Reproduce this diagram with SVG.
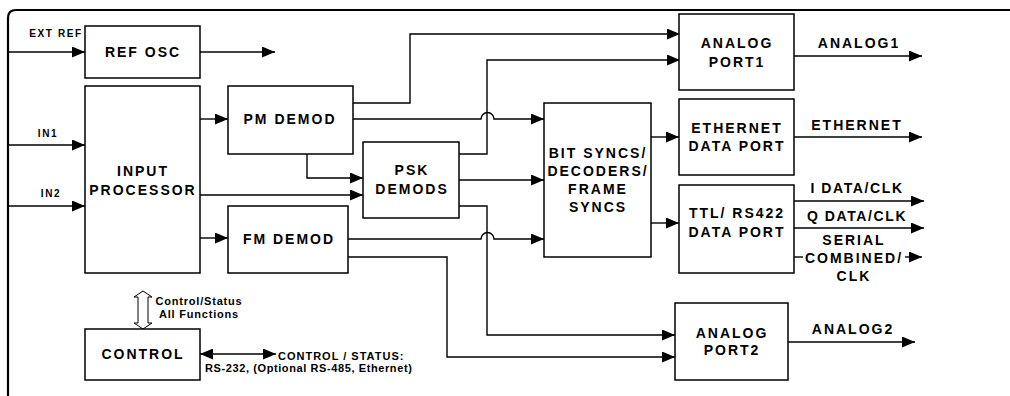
<svg xmlns="http://www.w3.org/2000/svg" width="1010" height="396" viewBox="0 0 1010 396">
<style>
.box{fill:#fff;stroke:#000;stroke-width:1.5}
.ln{fill:none;stroke:#000;stroke-width:1.4}
.ar{marker-end:url(#ah)}
.t{font-family:"Liberation Sans",Arial,sans-serif;font-weight:bold;font-size:14px;letter-spacing:2px;text-anchor:middle;fill:#000}
.s{font-family:"Liberation Sans",Arial,sans-serif;font-weight:bold;font-size:11px;letter-spacing:0.8px;fill:#000}
.m{font-family:"Liberation Sans",Arial,sans-serif;font-weight:bold;font-size:10px;letter-spacing:1.6px;text-anchor:middle;fill:#000}
</style>
<defs>
<marker id="ah" markerUnits="userSpaceOnUse" markerWidth="13" markerHeight="11" refX="13" refY="5.5" orient="auto-start-reverse" viewBox="0 0 13 11">
<path d="M0,0 L13,5.5 L0,11 z" fill="#000"/>
</marker>
</defs>
<rect width="1010" height="396" fill="#fff"/>
<path d="M8,396 V18 Q8,10 16,10 H1010" fill="none" stroke="#000" stroke-width="2.2"/>

<g id="connectors">
<path class="ln ar" d="M8,52 H85"/>
<path class="ln ar" d="M200,52 H275"/>
<path class="ln ar" d="M8,145 H85"/>
<path class="ln ar" d="M8,206 H85"/>
<path class="ln ar" d="M200,119 H228"/>
<path class="ln ar" d="M200,238 H228"/>
<path class="ln ar" d="M200,195 H363"/>
<path class="ln ar" d="M307,154 V178 H363"/>
<path class="ln ar" d="M353,103 H410 V34 H680"/>
<path class="ln ar" d="M353,119 H481 A6.5,6.5 0 0 1 494,119 H544"/>
<path class="ln ar" d="M459,154 H487 V60 H680"/>
<path class="ln ar" d="M459,180 H544"/>
<path class="ln ar" d="M459,206 H487 V335 H675"/>
<path class="ln ar" d="M348,239 H481 A6.5,6.5 0 0 1 494,239 H544"/>
<path class="ln ar" d="M348,257 H447 V357 H675"/>
<path class="ln ar" d="M651,137 H679"/>
<path class="ln ar" d="M651,223 H679"/>
<path class="ln ar" d="M794,56 H922"/>
<path class="ln ar" d="M794,137 H922"/>
<path class="ln ar" d="M794,201 H924"/>
<path class="ln ar" d="M794,228 H924"/>
<path class="ln" d="M794,257 H803"/>
<path class="ln ar" d="M905,257 H922"/>
<path class="ln ar" d="M788,342 H915"/>
<path class="ln" d="M200,354 H276" marker-start="url(#ah)" marker-end="url(#ah)"/>
<polygon points="143,291 152,297 148,297 148,323 152,323 143,329 134,323 138,323 138,297 134,297" fill="#fff" stroke="#000" stroke-width="1"/>
</g>

<g id="labels">
<text class="m" x="56" y="37">EXT REF</text>
<text class="m" x="48" y="137">IN1</text>
<text class="m" x="51" y="197">IN2</text>
<text class="t" x="859" y="48">ANALOG1</text>
<text class="t" x="857" y="130">ETHERNET</text>
<text class="t" x="857" y="193" style="letter-spacing:1.6px">I DATA/CLK</text>
<text class="t" x="857" y="221" style="letter-spacing:1.6px">Q DATA/CLK</text>
<text class="t" x="854" y="245">SERIAL</text>
<text class="t" x="854" y="263">COMBINED/</text>
<text class="t" x="854" y="281">CLK</text>
<text class="t" x="853" y="334">ANALOG2</text>
<text class="s" x="199" y="305" text-anchor="middle">Control/Status</text>
<text class="s" x="199" y="318" text-anchor="middle">All Functions</text>
<text class="s" x="278" y="360" style="letter-spacing:1px">CONTROL / STATUS:</text>
<text class="s" x="205" y="372" style="letter-spacing:0.6px">RS-232, (Optional RS-485, Ethernet)</text>
</g>

<g id="ref-osc"><rect class="box" x="85" y="26" width="115" height="52"/><text class="t" x="143" y="57">REF OSC</text></g>
<g id="input-processor"><rect class="box" x="85" y="86" width="115" height="187"/><text class="t" x="143" y="176">INPUT</text><text class="t" x="143" y="195">PROCESSOR</text></g>
<g id="pm-demod"><rect class="box" x="228" y="86" width="125" height="68"/><text class="t" x="290" y="124">PM DEMOD</text></g>
<g id="fm-demod"><rect class="box" x="228" y="206" width="120" height="67"/><text class="t" x="289" y="244">FM DEMOD</text></g>
<g id="psk-demods"><rect class="box" x="363" y="142" width="96" height="76"/><text class="t" x="412" y="175">PSK</text><text class="t" x="412" y="194">DEMODS</text></g>
<g id="bit-syncs"><rect class="box" x="544" y="103" width="107" height="154"/><text class="t" x="598" y="158">BIT SYNCS/</text><text class="t" x="598" y="176">DECODERS/</text><text class="t" x="598" y="194">FRAME</text><text class="t" x="598" y="212">SYNCS</text></g>
<g id="analog-port1"><rect class="box" x="679" y="14" width="115" height="76"/><text class="t" x="737" y="48">ANALOG</text><text class="t" x="737" y="67">PORT1</text></g>
<g id="ethernet-data-port"><rect class="box" x="679" y="99" width="115" height="76"/><text class="t" x="737" y="133">ETHERNET</text><text class="t" x="737" y="151">DATA PORT</text></g>
<g id="ttl-data-port"><rect class="box" x="679" y="185" width="115" height="88"/><text class="t" x="737" y="218">TTL/ RS422</text><text class="t" x="737" y="237">DATA PORT</text></g>
<g id="analog-port2"><rect class="box" x="675" y="303" width="113" height="77"/><text class="t" x="732" y="338">ANALOG</text><text class="t" x="732" y="355">PORT2</text></g>
<g id="control"><rect class="box" x="85" y="329" width="115" height="51"/><text class="t" x="143" y="359">CONTROL</text></g>
</svg>
